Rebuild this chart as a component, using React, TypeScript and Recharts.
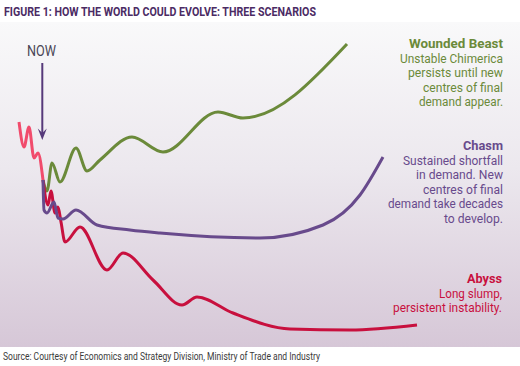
import React from "react";
import { LineChart, Line, XAxis, YAxis } from "recharts";

// time index (left→right) and economic level (higher = better)
const pastTime = [19, 24, 29, 34, 38, 43];
const pastLevel = [244, 219, 239, 208, 213, 186];

const beastTime = [43, 47, 52, 60, 76, 87, 100, 132, 163, 218, 243, 347];
const beastLevel = [186, 175, 203, 184, 218, 195, 206, 229, 214, 254, 248, 322];

const chasmTime = [43, 44, 47, 54, 58, 63, 76, 97, 130, 160, 260, 323, 360, 383];
const chasmLevel = [186, 156, 153, 164, 148, 147, 156, 141, 136, 133, 128, 141, 171, 209];

const abyssTime = [43, 48, 51, 55, 58, 61, 65, 80, 107, 123, 153, 182, 197, 233, 290, 350, 417];
const abyssLevel = [186, 161, 175, 153, 159, 144, 124, 139, 96, 113, 86, 61, 69, 53, 37, 36, 41];

const titleText = "FIGURE 1: HOW THE WORLD COULD EVOLVE: THREE SCENARIOS";
const sourceText = "Source: Courtesy of Economics and Strategy Division, Ministry of Trade and Industry";
const nowLabel = "NOW";

const beastLabel = ["Wounded Beast", "Unstable Chimerica", "persists until new", "centres of final", "demand appear."];
const chasmLabel = ["Chasm", "Sustained shortfall", "in demand. New", "centres of final", "demand take decades", "to develop."];
const abyssLabel = ["Abyss", "Long slump,", "persistent instability."];

const build = (t: number[], v: number[]) => t.map((x, i) => ({ t: x, v: v[i] }));

const pastData = build(pastTime, pastLevel);
const beastData = build(beastTime, beastLevel);
const chasmData = build(chasmTime, chasmLevel);
const abyssData = build(abyssTime, abyssLevel);

const GREEN = "#6b8a3a";
const PURPLE = "#684a8c";
const RED = "#c8103e";
const PINK = "#f14b6c";

const FONT = "Roboto, 'Liberation Sans', sans-serif";

type LabelProps = {
  lines: string[];
  widths: number[];
  x: number;
  y: number;
  color: string;
};

const Block = ({ lines, widths, x, y, color }: LabelProps) => (
  <g>
    {lines.map((l, i) => (
      <text
        key={i}
        x={x - widths[i]}
        y={y + i * 14.6}
        fill={color}
        fontSize={12.5}
        fontWeight={i === 0 ? 700 : 400}
        fontFamily={FONT}
        textLength={widths[i]}
        lengthAdjust="spacingAndGlyphs"
      >
        {l}
      </text>
    ))}
  </g>
);

export default function App() {
  return (
    <div style={{ position: "absolute", left: 0, top: 0, width: 520, height: 366, background: "#ffffff", overflow: "hidden" }}>
      <div
        style={{
          position: "absolute",
          left: 0,
          top: 22,
          width: 520,
          height: 325,
          background: "linear-gradient(180deg, #f9f9fa 0%, #ece8ee 45%, #d6c7d7 100%)",
        }}
      />
      <div style={{ position: "absolute", left: 0, top: 0 }}>
        <LineChart width={520} height={366} margin={{ top: 0, right: 0, bottom: 0, left: 0 }}>
          <XAxis type="number" dataKey="t" domain={[0, 520]} hide allowDuplicatedCategory={false} />
          <YAxis type="number" dataKey="v" domain={[0, 366]} hide />
          <Line data={pastData} dataKey="v" type="monotone" stroke={PINK} strokeWidth={3} dot={false} isAnimationActive={false} />
          <Line data={beastData} dataKey="v" type="monotone" stroke={GREEN} strokeWidth={3} dot={false} isAnimationActive={false} />
          <Line data={abyssData} dataKey="v" type="monotone" stroke={RED} strokeWidth={3} dot={false} isAnimationActive={false} />
          <Line data={chasmData} dataKey="v" type="monotone" stroke={PURPLE} strokeWidth={3} dot={false} isAnimationActive={false} />
        </LineChart>
      </div>
      <svg width={520} height={366} style={{ position: "absolute", left: 0, top: 0 }}>
        <text x={4} y={16} fill="#4b2b64" fontSize={12} fontWeight={700} fontFamily={FONT} textLength={312} lengthAdjust="spacingAndGlyphs">
          {titleText}
        </text>
        <text x={27} y={56} fill="#4a4656" fontSize={15} fontFamily={FONT} textLength={29} lengthAdjust="spacingAndGlyphs">
          {nowLabel}
        </text>
        <line x1={42.3} y1={63} x2={42.3} y2={134} stroke="#56397a" strokeWidth={2} />
        <polygon points="42.3,140 37.8,128.5 42.3,133 46.8,128.5" fill="#56397a" />
        <Block lines={beastLabel} widths={[94, 103, 95, 80, 84]} x={503} y={48} color={GREEN} />
        <Block lines={chasmLabel} widths={[40, 100, 87, 80, 115, 59]} x={503} y={150} color={PURPLE} />
        <Block lines={abyssLabel} widths={[35, 63, 109]} x={502} y={283} color={RED} />
        <text x={3} y={360} fill="#3a3a3a" fontSize={11} fontFamily={FONT} textLength={317} lengthAdjust="spacingAndGlyphs">
          {sourceText}
        </text>
      </svg>
    </div>
  );
}
